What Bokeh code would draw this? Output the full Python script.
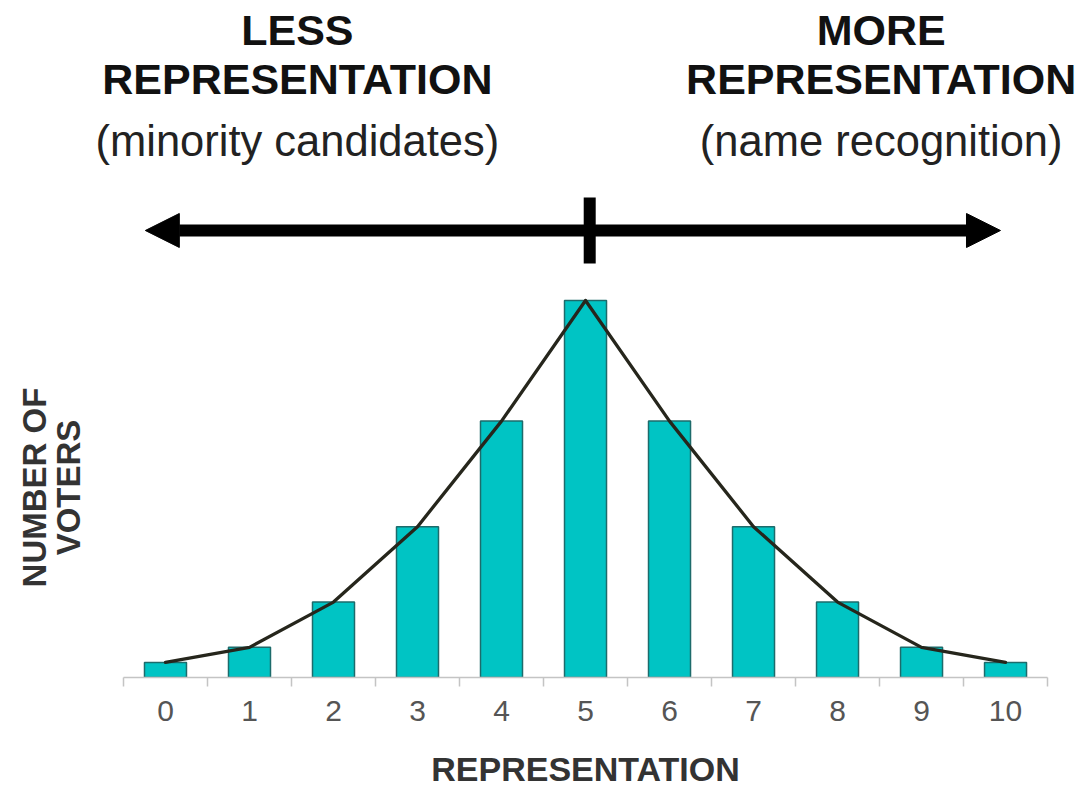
import math
from bokeh.plotting import figure
from bokeh.layouts import column
from bokeh.models import Range1d, FixedTicker, Label, Arrow, NormalHead
from bokeh.embed import file_html
from bokeh.resources import INLINE

# ---- data ----
categories = [0, 1, 2, 3, 4, 5, 6, 7, 8, 9, 10]
voters = [1, 2, 5, 10, 17, 25, 17, 10, 5, 2, 1]
tick_labels = [str(c) for c in categories]

W, H_MAIN, H_FOOT = 1084, 745, 44
p = figure(width=W, height=H_MAIN, output_backend="svg", toolbar_location=None,
           x_range=Range1d(-1.964, 10.94), y_range=Range1d(0, 44.89),
           y_axis_location=None, tools="")
p.min_border_left = 0
p.min_border_right = 0
p.min_border_top = 0
p.min_border_bottom = 68
p.outline_line_color = None
p.grid.visible = False
p.background_fill_color = "white"
p.border_fill_color = "white"

# bars
p.vbar(x=categories, top=voters, width=0.5, bottom=0,
       fill_color="#00c4c4", line_color="#1d6b6b", line_width=1.5)

# line through bar tops
p.line(x=categories, y=voters, line_color="#26261c", line_width=3.3,
       line_join="round", line_cap="round")

# x axis
ax = p.xaxis[0]
ax.ticker = FixedTicker(ticks=categories,
                        minor_ticks=[c - 0.5 for c in categories] + [categories[-1] + 0.5])
ax.major_label_overrides = {c: t for c, t in zip(categories, tick_labels)}
ax.bounds = (categories[0] - 0.5, categories[-1] + 0.5)
ax.axis_line_color = "#c4c4c4"
ax.axis_line_width = 1.5
ax.major_tick_out = 0
ax.major_tick_in = 0
ax.minor_tick_out = 9
ax.minor_tick_in = 0
ax.minor_tick_line_color = "#c4c4c4"
ax.minor_tick_line_width = 1.5
ax.major_label_standoff = 14
ax.major_label_text_font = "Liberation Sans"
ax.major_label_text_font_size = "30px"
ax.major_label_text_color = "#555555"

# y axis title (two lines, rotated)
p.add_layout(Label(x=-1.56, y=12.6, text="NUMBER OF", angle=math.pi / 2,
                   text_align="center", text_baseline="middle", text_font="Liberation Sans",
                   text_font_style="bold", text_font_size="33px", text_color="#333333"))
p.add_layout(Label(x=-1.16, y=12.6, text="VOTERS", angle=math.pi / 2,
                   text_align="center", text_baseline="middle", text_font="Liberation Sans",
                   text_font_style="bold", text_font_size="33px", text_color="#333333"))

# header texts
def hdr(x, y, txt, bold, size):
    p.add_layout(Label(x=x, y=y, text=txt, text_align="center", text_baseline="middle",
                       text_font="Liberation Sans",
                       text_font_style="bold" if bold else "normal",
                       text_font_size=size, text_color="#111111" if bold else "#222222"))

hdr(1.57, 42.95, "LESS", True, "43px")
hdr(1.57, 39.7, "REPRESENTATION", True, "43px")
hdr(1.57, 35.55, "(minority candidates)", False, "43.5px")
hdr(8.52, 42.95, "MORE", True, "43px")
hdr(8.52, 39.7, "REPRESENTATION", True, "43px")
hdr(8.52, 35.55, "(name recognition)", False, "43.5px")

# double-headed arrow with centre tick
p.add_layout(Arrow(x_start=-0.24, y_start=29.64, x_end=9.94, y_end=29.64,
                   line_width=12, line_color="black",
                   start=NormalHead(size=34, fill_color="black", line_color="black"),
                   end=NormalHead(size=34, fill_color="black", line_color="black")))
p.segment(x0=[5.05], y0=[27.45], x1=[5.05], y1=[31.83], line_width=12, line_color="black")

# footer strip holding the x-axis title, sharing the x range with the chart
f = figure(width=W, height=H_FOOT, output_backend="svg", toolbar_location=None,
           x_range=p.x_range, y_range=Range1d(0, H_FOOT),
           x_axis_location=None, y_axis_location=None, tools="")
f.min_border_left = 0
f.min_border_right = 0
f.min_border_top = 0
f.min_border_bottom = 0
f.outline_line_color = None
f.grid.visible = False
f.border_fill_color = "white"
f.add_layout(Label(x=5, y=21, text="REPRESENTATION", text_align="center",
                   text_baseline="middle", text_font="Liberation Sans",
                   text_font_style="bold", text_font_size="34px", text_color="#333333"))

layout = column(p, f, spacing=0)
open("out.html", "w").write(file_html(layout, INLINE))
